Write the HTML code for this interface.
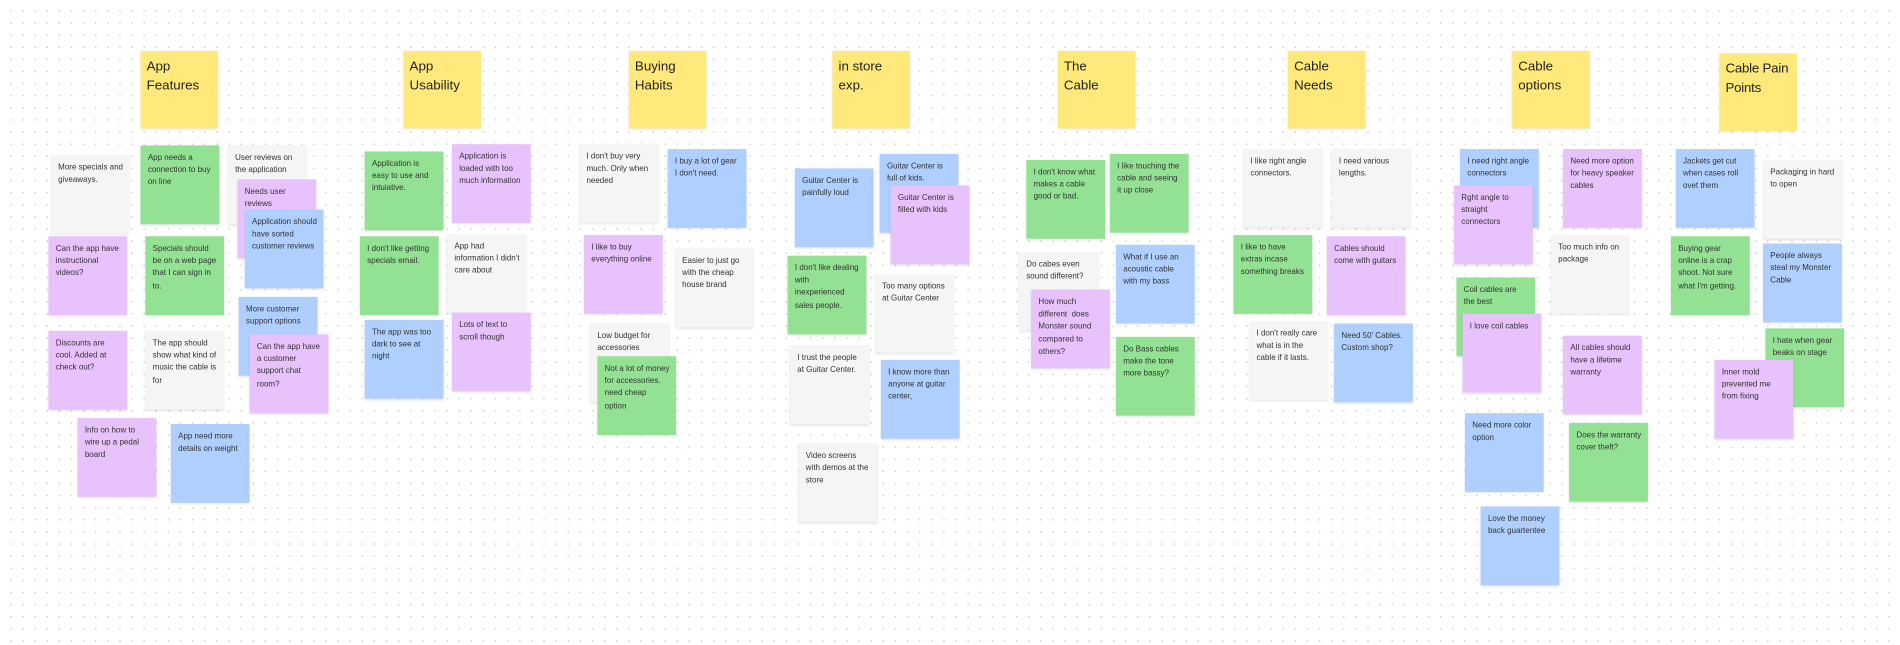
<!DOCTYPE html>
<html><head><meta charset="utf-8"><style>
html,body{margin:0;padding:0;width:1900px;height:644px;overflow:hidden;background:#fff;}
#b{position:absolute;left:0;top:0;width:1568px;height:532px;transform:scale(1.2117);transform-origin:0 0;
background-image:radial-gradient(circle,#cfcfcf 0.55px,transparent 0.85px);background-size:10px 10px;background-position:4px 4px;}
.s{position:absolute;width:65px;height:65px;box-sizing:border-box;padding:6px 5px 0 6px;font-family:"Liberation Sans",sans-serif;font-size:6.6px;line-height:10.2px;color:#333;box-shadow:0 1px 2px rgba(0,0,0,0.12);}
.h{width:64px;height:64px;font-size:11px;line-height:16px;padding:5px 5px;color:#222;background:#ffe97a;white-space:nowrap;}
.g{background:#93e293}.p{background:#e8c2fc}.bl{background:#afd0ff}.w{background:#f5f5f5}
</style></head><body><div id="b">
<div class="s h" style="left:116px;top:42px">App<br>Features</div>
<div class="s h" style="left:333px;top:42px">App<br>Usability</div>
<div class="s h" style="left:519px;top:42px">Buying<br>Habits</div>
<div class="s h" style="left:687px;top:42px">in store<br>exp.</div>
<div class="s h" style="left:873px;top:42px">The<br>Cable</div>
<div class="s h" style="left:1063px;top:42px">Cable<br>Needs</div>
<div class="s h" style="left:1248px;top:42px">Cable<br>options</div>
<div class="s h" style="left:1419px;top:44px;letter-spacing:-0.2px">Cable Pain<br>Points</div>

<div class="s w" style="left:42px;top:128px">More specials and giveaways.</div>
<div class="s g" style="left:116px;top:120px">App needs a connection to buy on line</div>
<div class="s w" style="left:188px;top:120px">User reviews on the application</div>
<div class="s p" style="left:196px;top:148px">Needs user reviews</div>
<div class="s bl" style="left:202px;top:173px">Application should have sorted customer reviews</div>
<div class="s p" style="left:40px;top:195px">Can the app have instructional videos?</div>
<div class="s g" style="left:120px;top:195px">Specials should be on a web page that I can sign in to.</div>
<div class="s bl" style="left:197px;top:245px">More customer support options</div>
<div class="s p" style="left:40px;top:273px">Discounts are cool. Added at check out?</div>
<div class="s w" style="left:120px;top:273px">The app should show what kind of music the cable is for</div>
<div class="s p" style="left:206px;top:276px">Can the app have a customer support chat room?</div>
<div class="s p" style="left:64px;top:345px">Info on how to wire up a pedal board</div>
<div class="s bl" style="left:141px;top:350px">App need more details on weight</div>

<div class="s g" style="left:301px;top:125px">Application is easy to use and intuiative.</div>
<div class="s p" style="left:373px;top:119px">Application is loaded with too much information</div>
<div class="s g" style="left:297px;top:195px">I don't like getting specials email.</div>
<div class="s w" style="left:369px;top:193px">App had information I didn't care about</div>
<div class="s bl" style="left:301px;top:264px">The app was too dark to see at night</div>
<div class="s p" style="left:373px;top:258px">Lots of text to scroll though</div>

<div class="s w" style="left:478px;top:119px">I don't buy very much. Only when needed</div>
<div class="s bl" style="left:551px;top:123px">I buy a lot of gear I don't need.</div>
<div class="s p" style="left:482px;top:194px">I like to buy everything online</div>
<div class="s w" style="left:557px;top:205px">Easier to just go with the cheap house brand</div>
<div class="s w" style="left:487px;top:267px">Low budget for accessories</div>
<div class="s g" style="left:493px;top:294px">Not a lot of money for accessories. need cheap option</div>

<div class="s bl" style="left:656px;top:139px">Guitar Center is painfully loud</div>
<div class="s bl" style="left:726px;top:127px">Guitar Center is full of kids.</div>
<div class="s p" style="left:735px;top:153px">Guitar Center is filled with kids</div>
<div class="s g" style="left:650px;top:211px">I don't like dealing with inexperienced sales people.</div>
<div class="s w" style="left:722px;top:226px">Too many options at Guitar Center</div>
<div class="s w" style="left:652px;top:285px">I trust the people at Guitar Center.</div>
<div class="s bl" style="left:727px;top:297px">I know more than anyone at guitar center,</div>
<div class="s w" style="left:659px;top:366px">Video screens with demos at the store</div>

<div class="s g" style="left:847px;top:132px">I don't know what makes a cable good or bad.</div>
<div class="s g" style="left:916px;top:127px">I like touching the cable and seeing it up close</div>
<div class="s w" style="left:841px;top:208px">Do cabes even sound different?</div>
<div class="s p" style="left:851px;top:239px">How much different&nbsp; does Monster sound compared to others?</div>
<div class="s bl" style="left:921px;top:202px">What if I use an acoustic cable with my bass</div>
<div class="s g" style="left:921px;top:278px">Do Bass cables make the tone more bassy?</div>

<div class="s w" style="left:1026px;top:123px">I like right angle connectors.</div>
<div class="s w" style="left:1099px;top:123px">I need various lengths.</div>
<div class="s g" style="left:1018px;top:194px">I like to have extras incase something breaks</div>
<div class="s p" style="left:1095px;top:195px">Cables should come with guitars</div>
<div class="s w" style="left:1031px;top:265px">I don't really care what is in the cable if it lasts.</div>
<div class="s bl" style="left:1101px;top:267px">Need 50' Cables. Custom shop?</div>

<div class="s bl" style="left:1205px;top:123px">I need right angle connectors</div>
<div class="s p" style="left:1200px;top:153px">Rght angle to straight connectors</div>
<div class="s p" style="left:1290px;top:123px">Need more option for heavy speaker cables</div>
<div class="s w" style="left:1280px;top:194px">Too much info on package</div>
<div class="s g" style="left:1202px;top:229px">Coil cables are the best</div>
<div class="s p" style="left:1207px;top:259px">I love coil cables</div>
<div class="s p" style="left:1290px;top:277px">All cables should have a lifetime warranty</div>
<div class="s bl" style="left:1209px;top:341px">Need more color option</div>
<div class="s g" style="left:1295px;top:349px">Does the warranty cover theft?</div>
<div class="s bl" style="left:1222px;top:418px">Love the money back guartentee</div>

<div class="s bl" style="left:1383px;top:123px">Jackets get cut when cases roll ovet them</div>
<div class="s w" style="left:1455px;top:132px">Packaging in hard to open</div>
<div class="s g" style="left:1379px;top:195px">Buying gear online is a crap shoot. Not sure what I'm getting.</div>
<div class="s bl" style="left:1455px;top:201px">People always steal my Monster Cable</div>
<div class="s g" style="left:1457px;top:271px">I hate when gear beaks on stage</div>
<div class="s p" style="left:1415px;top:297px">Inner mold prevented me from fixing</div>
</div></body></html>
